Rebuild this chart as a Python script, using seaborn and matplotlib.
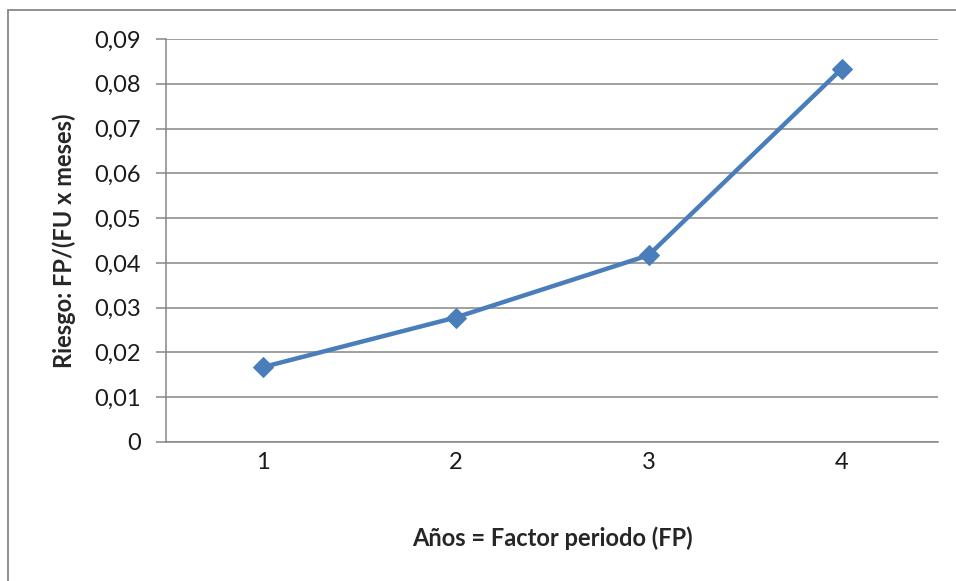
import matplotlib.pyplot as plt
import seaborn as sns
import pandas as pd
from matplotlib.patches import Rectangle
from matplotlib.ticker import FuncFormatter

# data
years = [1, 2, 3, 4]
risk = [0.0167, 0.0278, 0.0417, 0.0833]

df = pd.DataFrame({'year': years, 'risk': risk})

sns.set_style('white')
plt.rcParams['font.family'] = ['Lato', 'DejaVu Sans']

fig = plt.figure(figsize=(9.56, 5.81), dpi=100)
ax = fig.add_axes([166 / 956, 1 - 442 / 581, (938 - 166) / 956, (442 - 39) / 581])

sns.lineplot(data=df, x='year', y='risk', ax=ax, color='#4A7EBB', linewidth=3.2,
             marker='D', markersize=10, markeredgecolor='#4A7EBB')

ax.set_xlim(0.5, 4.5)
ax.set_ylim(0, 0.09)
ax.set_xticks(years)
ax.set_yticks([i / 100 for i in range(10)])
ax.yaxis.set_major_formatter(FuncFormatter(lambda v, p: '0' if v == 0 else f'{v:.2f}'.replace('.', ',')))

ax.grid(axis='y', color='#868686', linewidth=1.1)
ax.set_axisbelow(True)
for s in ['top', 'right']:
    ax.spines[s].set_visible(False)
for s in ['left', 'bottom']:
    ax.spines[s].set_color('#868686')
    ax.spines[s].set_linewidth(1.1)

ax.tick_params(axis='y', which='major', length=7, color='#868686', width=1.1,
               labelsize=17, pad=11, left=True, labelcolor='#1a1a1a')
ax.tick_params(axis='x', length=0, labelsize=17, pad=7, labelcolor='#1a1a1a')

ax.set_xlabel('Años = Factor periodo (FP)', fontsize=17, fontweight='bold', labelpad=39)
ax.set_ylabel('Riesgo: FP/(FU x meses)', fontsize=17, fontweight='bold', labelpad=13)

# outer chart border
fig.patches.append(Rectangle((8 / 956, -0.1), 1.0, 1 - 10 / 581 + 0.1, transform=fig.transFigure,
                             fill=False, edgecolor='#868686', linewidth=1.3))

fig.savefig('out.png', dpi=100)
